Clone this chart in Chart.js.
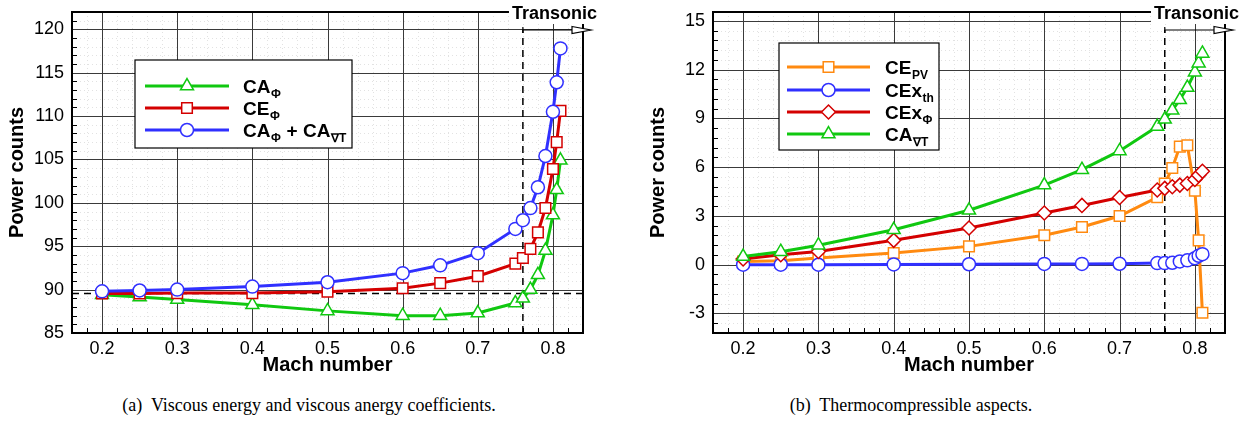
<!DOCTYPE html>
<html>
<head>
<meta charset="utf-8">
<script src="https://cdn.jsdelivr.net/npm/chart.js@4.4.1/dist/chart.umd.min.js"></script>
<style>
  body { margin: 0; background: #fff; width: 1252px; height: 423px; position: relative; overflow: hidden; }
  canvas { position: absolute; top: 0; }
  .cap { position: absolute; top: 395px; transform: translateX(-50%); font-family: 'Liberation Serif', 'Times New Roman', serif; font-size: 18px; white-space: pre; color: #000; }
</style>
</head>
<body>
<canvas id="left" width="626" height="385" style="left:0"></canvas>
<canvas id="right" width="626" height="385" style="left:626px"></canvas>
<div class="cap" style="left:309px">(a)  Viscous energy and viscous anergy coefficients.</div>
<div class="cap" style="left:911px">(b)  Thermocompressible aspects.</div>
<script>
// Mach numbers shared by every series
const mach = [0.2, 0.25, 0.3, 0.4, 0.5, 0.6, 0.65, 0.7, 0.75, 0.76, 0.77, 0.78, 0.79, 0.8, 0.805, 0.81];

// (a) viscous energy / anergy
const caPhi  = [89.4, 89.15, 88.85, 88.25, 87.55, 87.0, 87.0, 87.3, 88.45, 89.0, 90.0, 91.7, 94.5, 98.6, 101.5, 104.9];
const cePhi  = [89.55, 89.55, 89.6, 89.6, 89.75, 90.15, 90.75, 91.55, 93.0, 93.65, 94.7, 96.6, 99.4, 103.9, 107.0, 110.6];
const caSum  = [89.8, 89.9, 90.0, 90.35, 90.85, 91.9, 92.8, 94.2, 97.0, 98.0, 99.4, 101.8, 105.4, 110.5, 113.9, 117.8];

// (b) thermocompressible terms
const cePv    = [0.2, 0.25, 0.42, 0.72, 1.13, 1.81, 2.32, 3.0, 4.15, 5.0, 5.95, 7.27, 7.35, 4.55, 1.5, -2.95];
const cexTh   = [0.0, 0.0, 0.0, 0.02, 0.03, 0.05, 0.05, 0.06, 0.1, 0.1, 0.12, 0.2, 0.27, 0.4, 0.55, 0.65];
const cexPhi  = [0.35, 0.62, 0.82, 1.5, 2.26, 3.18, 3.65, 4.14, 4.6, 4.7, 4.8, 4.9, 5.0, 5.25, 5.5, 5.75];
const caGradT = [0.5, 0.8, 1.2, 2.15, 3.35, 4.9, 5.85, 7.0, 8.5, 8.95, 9.5, 10.15, 10.9, 11.85, 12.4, 13.0];

// axes
const machTicks  = [0.2, 0.3, 0.4, 0.5, 0.6, 0.7, 0.8];
const leftTicks  = [85, 90, 95, 100, 105, 110, 115, 120];
const rightTicks = [-3, 0, 3, 6, 9, 12, 15];
const transonicMach = 0.76;
const refLevel = 89.55;

// legend labels: [text, subscript] pieces
const leftLabels  = [[['CA', 'Φ']], [['CE', 'Φ']], [['CA', 'Φ'], [' + CA', '∇T']]];
const rightLabels = [[['CE', 'PV']], [['CEx', 'th']], [['CEx', 'Φ']], [['CA', '∇T']]];

const GREEN = '#10c810', RED = '#d40000', BLUE = '#3030ff', ORANGE = '#ff8a10';
const FONT = "'Liberation Sans', Arial, Helvetica, sans-serif";
Chart.defaults.font.family = FONT;
Chart.defaults.color = '#000';

function series(label, values, color, style, r) {
  return {
    label: label,
    data: mach.map((m, i) => ({ x: m, y: values[i] })),
    borderColor: color, borderWidth: 3,
    pointStyle: style, pointRadius: r, pointBorderWidth: 1.5,
    pointBackgroundColor: '#fff', pointBorderColor: color,
    tension: 0
  };
}

function steps(k0, k1, step, every) {
  const out = [];
  for (let k = k0; k <= k1; k++) if (k % every !== 0) out.push(+(k * step).toFixed(4));
  return out;
}

function drawMarker(ctx, style, x, y, r, color) {
  ctx.beginPath();
  if (style === 'circle') ctx.arc(x, y, r, 0, Math.PI * 2);
  else if (style === 'rect') { const s = r * Math.SQRT1_2; ctx.rect(x - s, y - s, 2 * s, 2 * s); }
  else if (style === 'rectRot') { ctx.moveTo(x - r, y); ctx.lineTo(x, y - r); ctx.lineTo(x + r, y); ctx.lineTo(x, y + r); }
  else if (style === 'triangle') {
    for (let i = 0; i < 3; i++) {
      const a = i * 2 * Math.PI / 3;
      ctx[i ? 'lineTo' : 'moveTo'](x + Math.sin(a) * r, y - Math.cos(a) * r);
    }
  }
  ctx.closePath();
  ctx.fillStyle = '#fff'; ctx.fill();
  ctx.strokeStyle = color; ctx.lineWidth = 1.5; ctx.stroke();
}

function vline(ctx, px, y0, y1) { px = Math.round(px) + 0.5; ctx.beginPath(); ctx.moveTo(px, y0); ctx.lineTo(px, y1); ctx.stroke(); }
function hline(ctx, py, x0, x1) { py = Math.round(py) + 0.5; ctx.beginPath(); ctx.moveTo(x0, py); ctx.lineTo(x1, py); ctx.stroke(); }

function decorPlugin(o) {
  return {
    id: 'decor',
    beforeDatasetsDraw(chart) {
      const { ctx, chartArea: a, scales: { x, y } } = chart;
      ctx.save();
      // minor dotted grid (faint)
      ctx.strokeStyle = '#e2e2e2'; ctx.lineWidth = 1; ctx.setLineDash([1, 3]);
      o.xMinor.forEach(v => vline(ctx, x.getPixelForValue(v), a.top, a.bottom));
      o.yMinor.forEach(v => hline(ctx, y.getPixelForValue(v), a.left, a.right));
      ctx.setLineDash([]);
      // major grid
      ctx.strokeStyle = '#3a3a3a';
      machTicks.forEach(v => vline(ctx, x.getPixelForValue(v), a.top, a.bottom));
      o.yTicks.forEach(v => hline(ctx, y.getPixelForValue(v), a.left, a.right));
      // minor tick marks inside
      ctx.strokeStyle = '#000';
      o.xMinor.forEach(v => vline(ctx, x.getPixelForValue(v), a.bottom - 5, a.bottom));
      o.yMinor.forEach(v => hline(ctx, y.getPixelForValue(v), a.left, a.left + 5));
      // dashed transonic limit
      const tx = x.getPixelForValue(transonicMach);
      ctx.lineWidth = 1.5; ctx.setLineDash([7, 5]);
      ctx.beginPath(); ctx.moveTo(tx, a.bottom); ctx.lineTo(tx, a.top + 18); ctx.stroke();
      if (o.ref !== undefined) {
        const ry = y.getPixelForValue(o.ref);
        ctx.beginPath(); ctx.moveTo(a.left, ry); ctx.lineTo(a.right, ry); ctx.stroke();
      }
      ctx.setLineDash([]);
      // frame
      ctx.lineWidth = 2; ctx.strokeStyle = '#000';
      ctx.strokeRect(a.left, a.top, a.right - a.left, a.bottom - a.top);
      ctx.restore();
    },
    afterDraw(chart) {
      const { ctx, chartArea: a, scales: { x } } = chart;
      ctx.save();
      // Transonic label and arrow
      ctx.font = 'bold 18px ' + FONT;
      const label = 'Transonic';
      const w = ctx.measureText(label).width;
      const tr = a.right + 14;
      ctx.fillStyle = '#fff';
      ctx.fillRect(tr - w - 3, 0, w + 6, a.top + 12);
      ctx.fillStyle = '#000'; ctx.textAlign = 'right'; ctx.textBaseline = 'middle';
      ctx.fillText(label, tr, 14);
      const ay = a.top + 18, x0 = x.getPixelForValue(transonicMach);
      const h0 = a.right - 11, h1 = a.right + 8;
      ctx.strokeStyle = '#000'; ctx.lineWidth = 1.2;
      ctx.beginPath(); ctx.moveTo(x0, ay - 3); ctx.lineTo(x0, ay + 3); ctx.stroke();
      ctx.beginPath(); ctx.moveTo(x0, ay); ctx.lineTo(h0, ay); ctx.stroke();
      ctx.beginPath(); ctx.moveTo(h0, ay - 3.5); ctx.lineTo(h1, ay); ctx.lineTo(h0, ay + 3.5); ctx.closePath();
      ctx.fillStyle = '#fff'; ctx.fill(); ctx.stroke();
      // legend
      const L = o.legend;
      ctx.fillStyle = '#fff'; ctx.fillRect(L.x, L.y, L.w, L.h);
      ctx.strokeStyle = '#000'; ctx.lineWidth = 1.2; ctx.strokeRect(L.x, L.y, L.w, L.h);
      o.legendOrder.forEach((di, i) => {
        const ds = chart.data.datasets[di];
        const ly = L.rowY[i];
        ctx.strokeStyle = ds.borderColor; ctx.lineWidth = 3;
        ctx.beginPath(); ctx.moveTo(L.x0, ly); ctx.lineTo(L.x1, ly); ctx.stroke();
        drawMarker(ctx, ds.pointStyle, (L.x0 + L.x1) / 2, ly, ds.pointRadius, ds.borderColor);
        let tx = L.tx;
        ctx.fillStyle = '#000'; ctx.textAlign = 'left'; ctx.textBaseline = 'alphabetic';
        o.labels[i].forEach(([main, sub]) => {
          ctx.font = 'bold 19px ' + FONT;
          ctx.fillText(main, tx, ly + 6.5); tx += ctx.measureText(main).width;
          ctx.font = 'bold 12px ' + FONT;
          ctx.fillText(sub, tx + 0.5, ly + 12); tx += ctx.measureText(sub).width + 1;
        });
      });
      ctx.restore();
    }
  };
}

function makeChart(id, o) {
  return new Chart(document.getElementById(id), {
    type: 'line',
    data: { datasets: o.datasets },
    options: {
      responsive: false, animation: false, events: [],
      layout: { padding: { left: 0, top: 12, right: o.padRight, bottom: 0 } },
      plugins: { legend: { display: false }, tooltip: { enabled: false } },
      scales: {
        x: {
          type: 'linear', min: 0.16, max: 0.84,
          afterBuildTicks: s => { s.ticks = machTicks.map(v => ({ value: v })); },
          afterFit: s => { s.height = 52; s.paddingLeft = 0; s.paddingRight = 0; },
          grid: { display: false, drawTicks: false },
          border: { display: false },
          ticks: { padding: 5, autoSkip: false, maxRotation: 0, font: { size: 18 }, color: '#000', callback: v => v.toFixed(1) },
          title: { display: true, text: 'Mach number', font: { size: 20, weight: 'bold' }, color: '#000', padding: { top: 0, bottom: 8 } }
        },
        y: {
          type: 'linear', min: o.yMin, max: o.yMax,
          afterBuildTicks: s => { s.ticks = o.yTicks.map(v => ({ value: v })); },
          afterFit: s => { s.width = o.yWidth; s.paddingTop = 0; s.paddingBottom = 0; },
          grid: { display: false, drawTicks: false },
          border: { display: false },
          ticks: { padding: o.yPad, autoSkip: false, font: { size: 18 }, color: '#000', callback: v => String(v) },
          title: { display: true, text: 'Power counts', font: { size: 20, weight: 'bold' }, color: '#000', padding: { top: o.yTitlePad, bottom: 0 } }
        }
      }
    },
    plugins: [decorPlugin(o)]
  });
}

makeChart('left', {
  datasets: [
    series('CAΦ + CA∇T', caSum, BLUE, 'circle', 6.5),
    series('CEΦ', cePhi, RED, 'rect', 7.5),
    series('CAΦ', caPhi, GREEN, 'triangle', 7.5)
  ],
  legendOrder: [2, 1, 0], labels: leftLabels,
  legend: { x: 135, y: 60, w: 217, h: 88, rowY: [86, 108, 130], x0: 145, x1: 229, tx: 243 },
  padRight: 43, yMin: 85, yMax: 122, yTicks: leftTicks, yWidth: 72, yPad: 8, yTitlePad: 5,
  xMinor: steps(8, 42, 0.02, 5), yMinor: steps(85, 122, 1, 5), ref: refLevel
});

makeChart('right', {
  datasets: [
    series('CA∇T', caGradT, GREEN, 'triangle', 7.5),
    series('CExΦ', cexPhi, RED, 'rectRot', 7),
    series('CExth', cexTh, BLUE, 'circle', 6.5),
    series('CEPV', cePv, ORANGE, 'rect', 7.5)
  ],
  legendOrder: [3, 2, 1, 0], labels: rightLabels,
  legend: { x: 153, y: 43, w: 160, h: 107, rowY: [67, 90, 112, 134], x0: 161, x1: 244, tx: 259 },
  padRight: 27, yMin: -4.2, yMax: 15.55, yTicks: rightTicks, yWidth: 87, yPad: 8, yTitlePad: 20,
  xMinor: steps(8, 42, 0.02, 5), yMinor: steps(-7, 25, 0.6, 5)
});
</script>
</body>
</html>
